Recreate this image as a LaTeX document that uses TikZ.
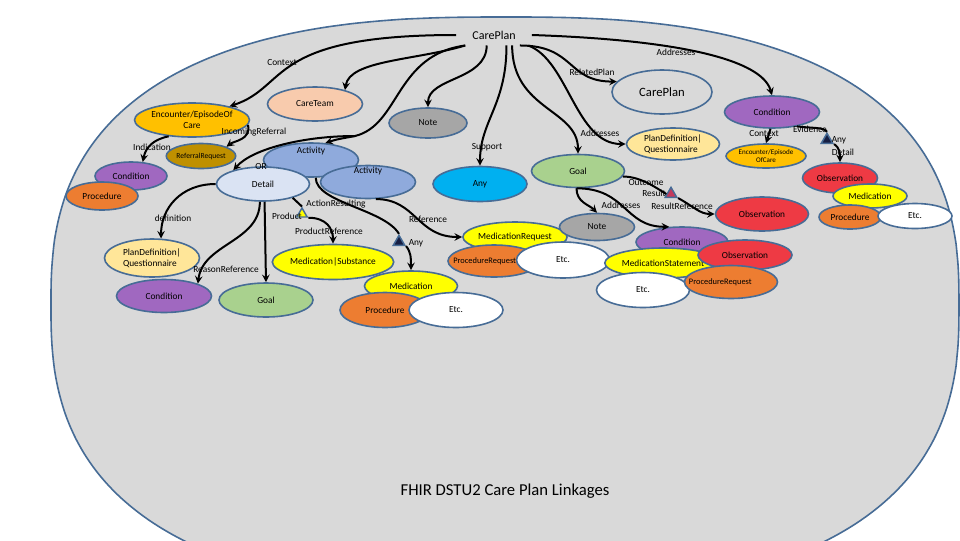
\documentclass[tikz,border=0pt]{standalone}
\usepackage{fontspec}
\setmainfont{Carlito}
\usepackage{tikz}
\usetikzlibrary{shapes.geometric, arrows}
\definecolor{slide}{RGB}{217,217,217}
\definecolor{rim}{RGB}{71,108,150}
\definecolor{condpurple}{RGB}{160,104,192}
\definecolor{encgold}{RGB}{255,192,0}
\definecolor{refgold}{RGB}{191,144,0}
\definecolor{peach}{RGB}{248,203,173}
\definecolor{notegray}{RGB}{166,166,166}
\definecolor{actblue}{RGB}{143,170,220}
\definecolor{detblue}{RGB}{218,227,243}
\definecolor{anyblue}{RGB}{0,176,240}
\definecolor{goalgreen}{RGB}{169,209,142}
\definecolor{plancream}{RGB}{255,230,153}
\definecolor{medyellow}{RGB}{255,255,0}
\definecolor{procorange}{RGB}{237,125,49}
\definecolor{obsred}{RGB}{238,58,68}
\definecolor{navy}{RGB}{22,30,66}
\definecolor{respink}{RGB}{196,58,92}
\newcommand{\lbltxt}{\fontsize{7}{8}\selectfont}
\newcommand{\smalltxt}{\fontsize{6.3}{7}\selectfont}
\tikzstyle{arrow} = [->,>=stealth, line width=1.5pt]
\tikzstyle{link} = [line width=1.5pt]
\tikzstyle{blob} = [ellipse, draw=rim, line width=1.2pt, inner sep=0pt, font=\lbltxt]
\tikzstyle{lbl} = [font=\lbltxt, inner sep=0pt]
\tikzstyle{tri} = [regular polygon, regular polygon sides=3, draw=rim, line width=1.1pt, minimum size=10pt, inner sep=0pt]
\tikzset{sz/.style 2 args={minimum width=#1*0.75pt, minimum height=#2*0.75pt}}

\begin{document}
\begin{tikzpicture}[x=0.75pt, y=-0.75pt]
\useasboundingbox (0,0) rectangle (960,540);
% the big rounded backdrop
\draw [fill=slide, draw=rim, line width=1.2pt] plot [domain=0:360, samples=240, smooth]
  ({505+454*sign(cos(\x))*(abs(cos(\x))+0.00001)^0.77}, {305+288*sign(sin(\x))*(abs(sin(\x))+0.00001)^0.77}) -- cycle;

\node (cp) [font=\fontsize{9}{10}\selectfont, inner xsep=12pt, inner ysep=4.5pt] at (494,35) {CarePlan};

% left side
\node (enc)   [blob, fill=encgold, sz={95}{34}, align=center] at (192,120) {Encounter/EpisodeOf\\Care};
\node (refq)  [blob, fill=refgold, sz={62}{25}, font=\fontsize{5.7}{6}\selectfont] at (201,156) {ReferralRequest};
\node (condL) [blob, fill=condpurple, sz={72}{28}] at (131,176) {Condition};
\node (procL) [blob, fill=procorange, sz={72}{28}] at (102,196) {Procedure};
\node (careteam) [blob, fill=peach, sz={95}{34}] at (315,104) {CareTeam};
\node (noteT) [blob, fill=notegray, sz={78}{30}] at (428,123) {Note};
\node (act1)  [blob, fill=actblue, sz={95}{34}, label={[lbl, yshift=6.5pt]center:Activity}] at (311,160) {};
\node (act2)  [blob, fill=actblue, sz={95}{33}, label={[lbl, yshift=8.5pt]center:Activity}] at (368,182) {};
\node (detail) [blob, fill=detblue, sz={93}{34}] at (263,184) {Detail};
\node (planL) [blob, fill=plancream, sz={95}{38}, align=left] at (152,258) {PlanDefinition|\\Questionnaire};
\node (condB) [blob, fill=condpurple, sz={95}{33}] at (164,296) {Condition};
\node (goalB) [blob, fill=goalgreen, sz={94}{34}] at (266,300) {Goal};
\node (prodTri) [tri, fill=medyellow, minimum size=9pt] at (302,214) {};
\node (medSub) [blob, fill=medyellow, sz={93}{35}] at (333,262) {Medication|Substance};
\node (anyTri) [tri, fill=navy] at (399,242) {};
\node (medB)  [blob, fill=medyellow, sz={93}{30}] at (411,286) {Medication};
\node (procB) [blob, fill=procorange, sz={90}{35}] at (385,310) {Procedure};
\node (etcB)  [blob, fill=white, sz={94}{35}] at (456,310) {Etc.};

% middle
\node (any)   [blob, fill=anyblue, sz={94}{35}] at (480,184) {Any};
\node (medReq) [blob, fill=medyellow, sz={94}{30}] at (515,237) {MedicationRequest};
\node (procReq) [blob, fill=procorange, sz={92}{32}, label={[lbl, font=\smalltxt, xshift=-7pt]center:ProcedureRequest}] at (494,261) {};
\node (etcM)  [blob, fill=white, sz={93}{36}] at (563,260) {Etc.};
\node (goal)  [blob, fill=goalgreen, sz={93}{33}] at (578,171) {Goal};
\node (noteR) [blob, fill=notegray, sz={75}{27}] at (597,227) {Note};
\node (planR) [blob, fill=plancream, sz={93}{32}, align=left] at (673,144) {PlanDefinition|\\Questionnaire};
\node (resTri) [tri, fill=respink] at (671,194) {};

% right side
\node (cpE)   [blob, fill=slide, sz={100}{44}, font=\fontsize{9.5}{10}\selectfont] at (662,92) {CarePlan};
\node (condTR) [blob, fill=condpurple, sz={95}{32}] at (772,112) {Condition};
\node (encS)  [blob, fill=encgold, sz={80}{24}, align=center, font=\fontsize{5.3}{6.3}\selectfont] at (766,156) {Encounter/Episode\\OfCare};
\node (anyTri2) [tri, fill=navy] at (827,140) {};
\node (obsA)  [blob, fill=obsred, sz={75}{30}] at (840,178) {Observation};
\node (medA)  [blob, fill=medyellow, sz={74}{24}] at (870,196) {Medication};
\node (procA) [blob, fill=procorange, sz={62}{24}] at (850,217) {Procedure};
\node (etcA)  [blob, fill=white, sz={74}{25}] at (915,216) {Etc.};
\node (obsB)  [blob, fill=obsred, sz={93}{34}] at (762,214) {Observation};
\node (condM) [blob, fill=condpurple, sz={92}{30}] at (682,242) {Condition};
\node (medSt) [blob, fill=medyellow, sz={82}{30}] at (663,263) {MedicationStatement};
\node (etcR)  [blob, fill=white, sz={93}{35}] at (643,290) {Etc.};
\node (obsC)  [blob, fill=obsred, sz={94}{30}] at (745,255) {Observation};
\node (procReq2) [blob, fill=procorange, sz={93}{33}, label={[lbl, font=\smalltxt, xshift=-8pt]center:ProcedureRequest}] at (731,282) {};

% link labels
\node (lContext)  [lbl] at (282,63) {Context};
\node (lIncoming) [lbl] at (254,132) {IncomingReferral};
\node (lIndic)    [lbl] at (152,147) {Indication};
\node (lOr)       [lbl] at (261,166) {OR};
\node (lDef)      [lbl] at (173,218) {definition};
\node (lReason)   [lbl] at (226,269) {ReasonReference};
\node (lProduct)  [lbl] at (287,216) {Product};
\node (lProdRef)  [lbl] at (329,231) {ProductReference};
\node (lAction)   [lbl] at (336,204) {ActionResulting};
\node (lAny)      [lbl] at (416,243) {Any};
\node (lRef)      [lbl] at (428,219) {Reference};
\node (lSupport)  [lbl] at (487,147) {Support};
\node (lRelated)  [lbl] at (592,72) {RelatedPlan};
\node (lAddrA)    [lbl] at (600,133) {Addresses};
\node (lAddrB)    [lbl] at (676,52) {Addresses};
\node (lContextR) [lbl] at (764,134) {Context};
\node (lEvid)     [lbl] at (810,129) {Evidence};
\node (lAnyR)     [lbl] at (839,140) {Any};
\node (lDetailR)  [lbl] at (843,152) {Detail};
\node (lOutcome)  [lbl] at (646,182) {Outcome};
\node (lResult)   [lbl] at (654,193) {Result};
\node (lResRef)   [lbl] at (682,206) {ResultReference};
\node (lAddrC)    [lbl] at (621,205) {Addresses};

\node (title) [font=\fontsize{12.5}{14}\selectfont] at (505,491) {FHIR DSTU2 Care Plan Linkages};

% links from the plan
\coordinate (split) at (355,136);
\draw [arrow] (cp.west) .. controls +(-190,0) and +(60,-20) .. (enc.20);
\draw [arrow] (cp.200) .. controls +(-50,15) and +(5,-30) .. (careteam.25);
\draw [link] (cp.200) .. controls (395,55) and (400,125) .. (split);
\draw [arrow] (split) .. controls +(-10,2) and +(12,-4) .. (act1.50);
\draw [arrow] (split) .. controls +(-50,0) and +(20,-22) .. (detail.155);
\draw [arrow] (cp.235) .. controls +(0,35) and +(0,-30) .. (noteT.north);
\draw [arrow] (cp.320) .. controls +(0,60) and +(0,-45) .. (any.north);
\draw [arrow] (cp.330) .. controls +(0,65) and +(0,-45) .. (goal.north);
\draw [arrow] (cp.338) .. controls +(55,0) and +(-50,0) .. (cpE.167);
\draw [arrow] (cp.343) .. controls +(40,15) and +(-50,0) .. (planR.west);
\draw [arrow] (cp.east) .. controls +(150,5) and +(-10,-35) .. (condTR.north);

% left links
\draw [arrow] (enc.215) .. controls +(-15,3) and +(3,-15) .. (condL.50);
\draw [arrow] (enc.-5) .. controls +(3,15) and +(8,-6) .. (refq.20);
\draw [arrow] (detail.west) .. controls +(-35,0) and +(0,-30) .. (planL.65);
\draw [arrow] (detail.260) .. controls +(0,40) and +(5,-40) .. (condB.20);
\draw [arrow] (detail.275) -- (goalB.north);
\draw [link] (detail.-25) -- (prodTri.corner 1);
\draw [arrow] (prodTri.corner 3) .. controls +(18,0) and +(0,-15) .. (medSub.north);
\draw [link] (act1.285) .. controls +(0,25) and +(-15,-25) .. (anyTri.corner 1);
\draw [arrow] (anyTri.corner 3) .. controls +(5,6) and +(0,-12) .. (medB.north);
\draw [arrow] (act2.-65) .. controls +(40,0) and +(-45,0) .. (medReq.west);

% right links
\draw [link] (goal.-7) .. controls +(18,0) and +(-10,-6) .. (resTri.west);
\draw [arrow] (resTri.corner 3) .. controls +(15,8) and +(-15,0) .. (obsB.west);
\draw [arrow] (goal.-95) .. controls +(0,14) and +(-8,-8) .. (noteR.north);
\draw [arrow] (goal.-95) .. controls +(50,0) and +(-45,0) .. (condM.130);
\draw [arrow] (condTR.-95) -- (encS.north);
\draw [link] (condTR.-30) .. controls +(15,2) and +(-3,-5) .. (anyTri2.corner 1);
\draw [arrow] (anyTri2.corner 3) .. controls +(6,4) and +(0,-8) .. (obsA.north);

\end{tikzpicture}
\end{document}
